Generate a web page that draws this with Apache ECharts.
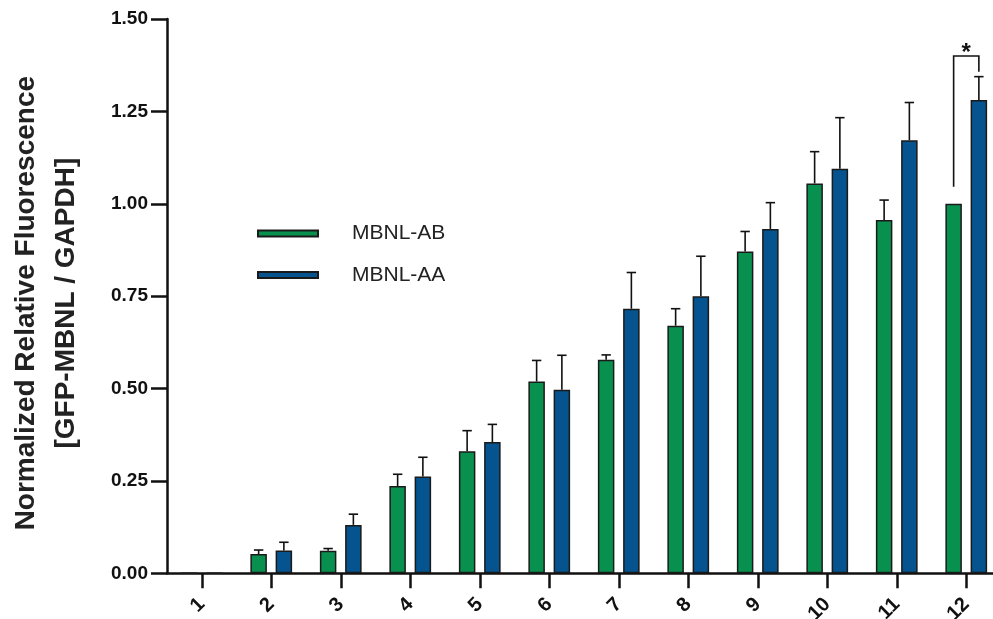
<!DOCTYPE html>
<html>
<head>
<meta charset="utf-8">
<script src="https://cdn.jsdelivr.net/npm/echarts@6/dist/echarts.min.js"></script>
<style>
html,body{margin:0;padding:0;background:#fff;}
#chart{width:993px;height:619px;}
</style>
</head>
<body>
<div id="chart"></div>
<script>
// ---- data ----
var categories = ['1','2','3','4','5','6','7','8','9','10','11','12'];
var seriesNames = ['MBNL-AB','MBNL-AA'];
var abMean = [0, 0.052, 0.061, 0.236, 0.330, 0.519, 0.578, 0.670, 0.871, 1.055, 0.956, 1.000];
var abSd   = [0, 0.011, 0.006, 0.032, 0.056, 0.057, 0.013, 0.046, 0.054, 0.086, 0.054, 0];
var aaMean = [0, 0.062, 0.131, 0.262, 0.355, 0.497, 0.716, 0.750, 0.932, 1.095, 1.172, 1.281];
var aaSd   = [0, 0.022, 0.029, 0.052, 0.048, 0.093, 0.098, 0.108, 0.071, 0.138, 0.102, 0.063];
var yTicks = [0, 0.25, 0.50, 0.75, 1.00, 1.25, 1.50];
// significance bracket: [category index, left leg bottom, bracket top, right leg bottom]
var bracket = [11, 1.046, 1.400, 1.357];
var bracketLabel = '*';
var yTitle = 'Normalized Relative Fluorescence\n[GFP-MBNL / GAPDH]';

// ---- styling ----
var GREEN = '#08904F', BLUE = '#05548F', INK = '#111111';
var BAR_W = 16.5, BAR_GAP = 0.53;
var OFFSET = (BAR_W + BAR_W * BAR_GAP) / 2;
var FONT = '"Liberation Sans", Arial, Helvetica, sans-serif';

var chart = echarts.init(document.getElementById('chart'));

function errData(mean, sd, sign) {
  return mean.map(function (m, i) { return [i, m, sd[i], sign]; });
}

function renderErr(params, api) {
  var sd = api.value(2);
  if (!sd) return null;
  var idx = api.value(0), m = api.value(1), sign = api.value(3);
  var base = api.coord([idx, m]);
  var top = api.coord([idx, m + sd]);
  var x = base[0] + sign * OFFSET;
  var cap = 4.7;
  return {
    type: 'group',
    children: [
      {type: 'line', shape: {x1: x, y1: base[1], x2: x, y2: top[1]}, style: {stroke: INK, lineWidth: 1.6}},
      {type: 'line', shape: {x1: x - cap, y1: top[1], x2: x + cap, y2: top[1]}, style: {stroke: INK, lineWidth: 1.6}}
    ]
  };
}

function renderBracket(params, api) {
  var idx = api.value(0);
  var c = api.coord([idx, api.value(2)]);
  var yl = api.coord([idx, api.value(1)])[1];
  var yr = api.coord([idx, api.value(3)])[1];
  var xl = c[0] - OFFSET, xr = c[0] + OFFSET;
  return {
    type: 'group',
    children: [
      {type: 'polyline', shape: {points: [[xl, yl], [xl, c[1]], [xr, c[1]], [xr, yr]]},
       style: {stroke: INK, lineWidth: 1.6, fill: null}},
      {type: 'text', x: c[0], y: c[1] - 3,
       style: {text: bracketLabel, fill: INK, font: 'bold 24px ' + FONT, align: 'center', verticalAlign: 'middle'}}
    ]
  };
}

var option = {
  animation: false,
  backgroundColor: '#ffffff',
  grid: {left: 167, top: 19, width: 834, bottom: 45.7, containLabel: false, outerBoundsMode: 'none'},
  legend: {
    orient: 'vertical',
    left: 257,
    top: 221.5,
    padding: 0,
    itemWidth: 60,
    itemHeight: 6,
    itemGap: 17.5,
    icon: 'rect',
    data: seriesNames,
    textStyle: {fontFamily: FONT, fontSize: 21, color: '#222222', lineHeight: 24, padding: [0, 0, 0, 29]}
  },
  xAxis: {
    type: 'category',
    data: categories,
    axisLine: {lineStyle: {color: INK, width: 2.5}},
    axisTick: {show: true, alignWithLabel: true, length: 15, lineStyle: {color: INK, width: 2.5}},
    axisLabel: {rotate: 45, margin: 28, fontFamily: FONT, fontWeight: 'bold', fontSize: 20, color: INK, interval: 0},
    splitLine: {show: false}
  },
  yAxis: {
    type: 'value',
    min: 0, max: 1.5, interval: 0.25,
    name: yTitle,
    nameLocation: 'middle',
    nameRotate: 90,
    nameGap: 80,
    nameTextStyle: {fontFamily: FONT, fontWeight: 'bold', fontSize: 28, color: '#222222', lineHeight: 40.5, padding: [0, 14, 0, 0]},
    axisLine: {show: true, lineStyle: {color: INK, width: 2.5}},
    axisTick: {show: true, length: 16, lineStyle: {color: INK, width: 2.5}},
    axisLabel: {margin: 19, fontFamily: FONT, fontWeight: 'bold', fontSize: 19, color: INK,
      formatter: function (v) { return yTicks.indexOf(v) >= 0 ? v.toFixed(2) : ''; }},
    splitLine: {show: false}
  },
  series: [
    {name: seriesNames[0], type: 'bar', data: abMean, barWidth: BAR_W, barGap: (BAR_GAP * 100) + '%',
     itemStyle: {color: GREEN, borderColor: '#1a1a1a', borderWidth: 1.5}},
    {name: seriesNames[1], type: 'bar', data: aaMean, barWidth: BAR_W,
     itemStyle: {color: BLUE, borderColor: '#1a1a1a', borderWidth: 1.5}},
    {type: 'custom', data: errData(abMean, abSd, -1), renderItem: renderErr, z: 3, silent: true},
    {type: 'custom', data: errData(aaMean, aaSd, 1), renderItem: renderErr, z: 3, silent: true},
    {type: 'custom', data: [bracket], renderItem: renderBracket, z: 4, silent: true}
  ]
};
chart.setOption(option);
</script>
</body>
</html>
